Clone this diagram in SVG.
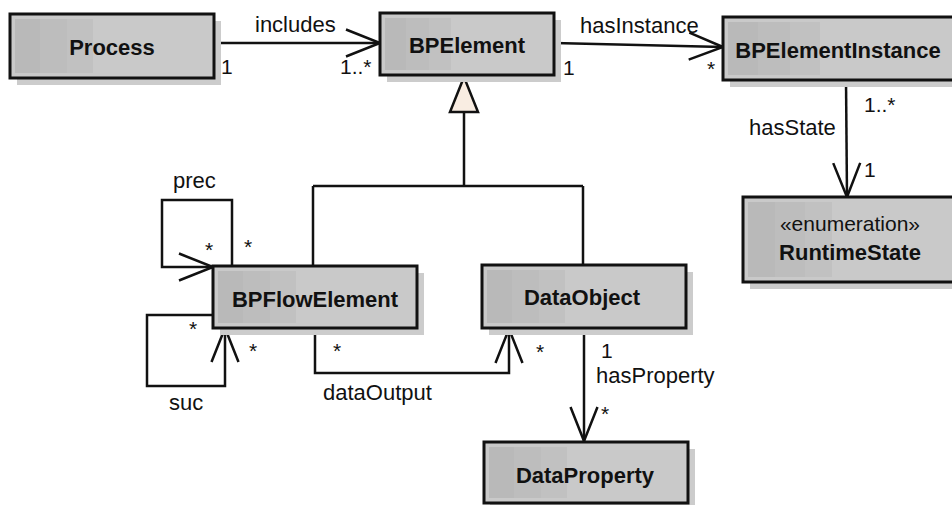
<svg xmlns="http://www.w3.org/2000/svg" width="952" height="505" viewBox="0 0 952 505">
<style>
.box{fill:#c9c9c9;stroke:#111;stroke-width:3}
.band{fill:url(#bands)}
.shadow{fill:#cccccc}
.name{font-family:"Liberation Sans",Arial,sans-serif;font-weight:bold;font-size:22px;fill:#111;text-anchor:middle}
.stereo{font-family:"Liberation Sans",Arial,sans-serif;font-size:21px;fill:#111;text-anchor:middle}
.lbl{font-family:"Liberation Sans",Arial,sans-serif;font-size:22px;fill:#111}
.mult{font-family:"Liberation Sans",Arial,sans-serif;font-size:21px;fill:#111}
.conn{fill:none;stroke:#111;stroke-width:2.5}
.arr{marker-end:url(#open)}
</style>
<defs>
<linearGradient id="bands" x1="0" y1="0" x2="1" y2="0">
<stop offset="0" stop-color="#b9b9b9"/>
<stop offset="0.13" stop-color="#b9b9b9"/>
<stop offset="0.13" stop-color="#bdbdbd"/>
<stop offset="0.27" stop-color="#bdbdbd"/>
<stop offset="0.27" stop-color="#c1c1c1"/>
<stop offset="0.4" stop-color="#c1c1c1"/>
<stop offset="0.4" stop-color="#c9c9c9"/>
<stop offset="1" stop-color="#c9c9c9"/>
</linearGradient>
<marker id="open" markerUnits="userSpaceOnUse" viewBox="-40 -18 44 36" refX="0" refY="0" markerWidth="44" markerHeight="36" orient="auto" overflow="visible">
<path d="M-34,-13.5 L0,0 L-34,13.5" fill="none" stroke="#111" stroke-width="2.5" stroke-linejoin="miter"/>
</marker>
</defs>

<g id="connectors">
<path class="conn arr" d="M214,43 H380"/>
<path class="conn arr" d="M554,43 L723,47"/>
<path class="conn arr" d="M846,80 L847,197"/>
<path class="conn" d="M464,112 V186 M313,186 H583 M313,186 V266 M583,186 V265"/>
<polygon points="464,77 450,112 478,112" fill="#f9ede2" stroke="#111" stroke-width="2.5"/>
<path class="conn arr" d="M232,266 V200 H162 V267 H213"/>
<path class="conn arr" d="M213,315 H147 V386 H225 V328"/>
<path class="conn arr" d="M315,328 V373 H509 V329"/>
<path class="conn arr" d="M584,328 V441"/>
</g>

<g id="labels">
<text class="lbl" x="255" y="32">includes</text>
<text class="mult" x="221" y="74">1</text>
<text class="mult" x="340" y="74">1..*</text>
<text class="lbl" x="580" y="33">hasInstance</text>
<text class="mult" x="563" y="75">1</text>
<text class="mult" x="707" y="76">*</text>
<text class="mult" x="864" y="112">1..*</text>
<text class="lbl" x="749" y="135">hasState</text>
<text class="mult" x="864" y="177">1</text>
<text class="lbl" x="173" y="188">prec</text>
<text class="mult" x="205" y="257">*</text>
<text class="mult" x="244" y="254">*</text>
<text class="mult" x="189" y="336">*</text>
<text class="mult" x="249" y="358">*</text>
<text class="lbl" x="169" y="410">suc</text>
<text class="mult" x="333" y="358">*</text>
<text class="lbl" x="323" y="400">dataOutput</text>
<text class="mult" x="536" y="359">*</text>
<text class="mult" x="601" y="358">1</text>
<text class="lbl" x="596" y="383">hasProperty</text>
<text class="mult" x="601" y="421">*</text>
</g>

<g id="Process">
<rect class="shadow" x="17" y="21" width="204" height="64"/>
<rect class="box" x="10" y="14" width="204" height="64"/>
<rect class="band" x="15" y="19" width="194" height="54"/>
<text class="name" x="112" y="55">Process</text>
</g>

<g id="BPElement">
<rect class="shadow" x="387" y="20" width="174" height="62"/>
<rect class="box" x="380" y="13" width="174" height="62"/>
<rect class="band" x="385" y="18" width="164" height="52"/>
<text class="name" x="467" y="53">BPElement</text>
</g>

<g id="BPElementInstance">
<rect class="shadow" x="730" y="24" width="240" height="63"/>
<rect class="box" x="723" y="17" width="240" height="63"/>
<rect class="band" x="728" y="22" width="230" height="53"/>
<text class="name" x="838" y="58">BPElementInstance</text>
</g>

<g id="RuntimeState">
<rect class="shadow" x="750" y="204" width="220" height="85"/>
<rect class="box" x="743" y="197" width="220" height="85"/>
<rect class="band" x="748" y="202" width="210" height="75"/>
<text class="stereo" x="850" y="231">«enumeration»</text>
<text class="name" x="850" y="260">RuntimeState</text>
</g>

<g id="BPFlowElement">
<rect class="shadow" x="220" y="273" width="204" height="62"/>
<rect class="box" x="213" y="266" width="204" height="62"/>
<rect class="band" x="218" y="271" width="194" height="52"/>
<text class="name" x="315" y="307">BPFlowElement</text>
</g>

<g id="DataObject">
<rect class="shadow" x="489" y="272" width="204" height="63"/>
<rect class="box" x="482" y="265" width="204" height="63"/>
<rect class="band" x="487" y="270" width="194" height="53"/>
<text class="name" x="582" y="305">DataObject</text>
</g>

<g id="DataProperty">
<rect class="shadow" x="490" y="449" width="205" height="61"/>
<rect class="box" x="484" y="442" width="204" height="61"/>
<rect class="band" x="489" y="447" width="194" height="51"/>
<text class="name" x="585" y="483">DataProperty</text>
</g>
</svg>
